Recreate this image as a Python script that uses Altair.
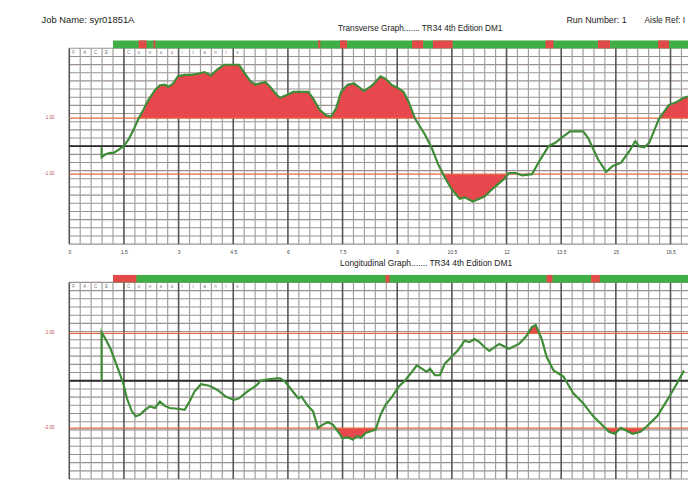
import altair as alt
import numpy as np
import pandas as pd

# ---------------- data ----------------
x_tick_values = [0, 1.5, 3, 4.5, 6, 7.5, 9, 10.5, 12, 13.5, 15, 16.5]

trans_x = [0.887, 0.887, 0.995, 1.131, 1.22, 1.356, 1.492, 1.627, 1.763, 1.899,
           2.034, 2.170, 2.351, 2.487, 2.623, 2.712, 2.848, 2.983, 3.165, 3.344,
           3.526, 3.708, 3.887, 4.068, 4.250, 4.429, 4.657, 4.793, 4.972, 5.107,
           5.378, 5.514, 5.696, 5.785, 5.967, 6.149, 6.555, 6.691, 6.870, 7.052,
           7.187, 7.323, 7.459, 7.640, 7.819, 8.091, 8.318, 8.543, 8.679, 8.861,
           9.040, 9.175, 9.311, 9.493, 9.764, 9.946, 10.125, 10.306, 10.488, 10.713,
           10.849, 11.074, 11.391, 11.663, 11.934, 12.069, 12.251, 12.430, 12.701, 12.929,
           13.154, 13.336, 13.561, 13.743, 14.103, 14.239, 14.510, 14.735, 14.917, 15.142,
           15.370, 15.533, 15.641, 15.777, 15.913, 16.184, 16.455, 16.680, 16.862, 16.979]
trans_y = [-0.04, -0.39, -0.29, -0.24, -0.24, -0.12, 0.0, 0.24, 0.59, 0.98,
           1.30, 1.65, 2.00, 2.18, 2.20, 2.12, 2.24, 2.50, 2.55, 2.55,
           2.59, 2.65, 2.53, 2.75, 2.91, 2.91, 2.91, 2.65, 2.32, 2.20,
           2.30, 2.12, 1.83, 1.73, 1.83, 1.94, 1.94, 1.71, 1.30, 1.10,
           1.06, 1.35, 1.94, 2.20, 2.24, 1.97, 2.18, 2.50, 2.41, 2.18,
           2.06, 1.94, 1.59, 0.98, 0.41, -0.06, -0.65, -1.12, -1.53, -1.88,
           -1.83, -1.98, -1.80, -1.47, -1.17, -0.96, -0.96, -1.04, -1.00, -0.47,
           0.0, 0.12, 0.35, 0.53, 0.53, 0.29, -0.47, -0.92, -0.71, -0.59,
           -0.18, 0.18, -0.01, -0.04, 0.12, 0.98, 1.47, 1.59, 1.73, 1.77]

long_x = [0.887, 0.887, 0.995, 1.131, 1.267, 1.402, 1.492, 1.581, 1.717, 1.825,
          1.945, 2.080, 2.216, 2.351, 2.487, 2.623, 2.758, 2.983, 3.165, 3.301,
          3.436, 3.615, 3.843, 4.068, 4.293, 4.521, 4.657, 4.882, 5.153, 5.243,
          5.424, 5.696, 5.785, 5.920, 6.102, 6.284, 6.374, 6.555, 6.691, 6.826,
          6.961, 7.097, 7.232, 7.368, 7.503, 7.640, 7.775, 7.911, 8.001, 8.136,
          8.272, 8.408, 8.543, 8.679, 8.861, 9.040, 9.222, 9.403, 9.538, 9.674,
          9.810, 9.899, 10.035, 10.171, 10.306, 10.488, 10.667, 10.849, 10.985, 11.120,
          11.256, 11.391, 11.527, 11.798, 12.069, 12.340, 12.530, 12.693, 12.801, 12.964,
          13.100, 13.290, 13.561, 13.832, 14.103, 14.375, 14.646, 14.809, 14.971, 15.134,
          15.297, 15.459, 15.676, 15.866, 16.138, 16.409, 16.680, 16.869]
long_y = [0.0, 2.04, 1.76, 1.35, 0.79, 0.23, -0.18, -0.74, -1.29, -1.50,
          -1.43, -1.23, -1.08, -1.15, -0.88, -1.06, -1.15, -1.18, -1.23, -0.88,
          -0.46, -0.15, -0.21, -0.39, -0.67, -0.81, -0.74, -0.46, -0.18, 0.0,
          0.05, 0.10, 0.10, -0.04, -0.39, -0.74, -0.67, -1.08, -1.29, -1.99,
          -1.85, -1.74, -1.85, -2.13, -2.43, -2.38, -2.48, -2.33, -2.40, -2.20,
          -2.13, -2.06, -1.43, -1.02, -0.67, -0.25, 0.02, 0.37, 0.65, 0.51,
          0.37, 0.51, 0.23, 0.23, 0.72, 1.00, 1.28, 1.69, 1.63, 1.76,
          1.63, 1.42, 1.26, 1.55, 1.35, 1.55, 1.85, 2.26, 2.35, 1.76,
          1.01, 0.43, 0.18, -0.53, -0.95, -1.49, -1.90, -2.15, -2.24, -1.99,
          -2.11, -2.24, -2.15, -1.90, -1.49, -0.82, -0.11, 0.43]

trans_limits = [1.0, -1.0]
trans_limit_labels = ["1.00", "-1.00"]
long_limits = [2.0, -2.0]
long_limit_labels = ["2.00", "-2.00"]

band_start = 1.2
trans_red_start = [1.90, 2.31, 6.83, 7.43, 9.41, 9.98, 13.07, 14.51, 16.16]
trans_red_end = [2.12, 2.36, 6.89, 7.62, 9.71, 10.52, 13.29, 14.84, 16.46]
long_red_start = [1.20, 8.68, 13.10, 14.32]
long_red_end = [1.84, 8.79, 13.26, 14.56]

cell_text = "FACE Consultants"

header_job = "Job Name: syr01851A"
header_run = "Run Number: 1"
header_aisle = "Aisle Ref: I"
title_trans = "Transverse Graph....... TR34 4th Edition DM1"
title_long = "Longitudinal Graph....... TR34 4th Edition DM1"

# ---------------- layout / style ----------------
W, H = 626, 445
XMAX = 16.98
FONT = "Liberation Sans"
GREEN_LINE = "#3f8c37"
RED_FILL = "#e6484e"
LIMIT_RED = "#e4673f"
BAND_GREEN = "#3fae44"
BAND_RED = "#e24a4a"

xs = alt.Scale(domain=[0, XMAX], nice=False, zero=False)
X_AXIS = alt.Axis(values=x_tick_values, title=None, domain=False, ticks=False, grid=False,
                  labelFontSize=5, labelColor="#444", labelPadding=6, offset=-238,
                  format=".1~f", labelOverlap=False, labelFlush=False, labelFont=FONT)

ys_top = alt.Scale(domain=[-11.908, 3.816], nice=False, zero=False)
ys_bot = alt.Scale(domain=[-4.154, 14.3875], nice=False, zero=False)


def X(field):
    return alt.X(field, type="quantitative", scale=xs, axis=X_AXIS)


def Y(field, sc):
    return alt.Y(field, type="quantitative", scale=sc, axis=None)


def fill_frame(xv, yv, thr, upper):
    ox, oy = [], []
    for i in range(len(xv)):
        if i > 0:
            x0, y0, x1, y1 = xv[i - 1], yv[i - 1], xv[i], yv[i]
            if (y0 - thr) * (y1 - thr) < 0:
                t = (thr - y0) / (y1 - y0)
                ox.append(x0 + t * (x1 - x0))
                oy.append(thr)
        ox.append(xv[i])
        oy.append(max(yv[i], thr) if upper else min(yv[i], thr))
    return pd.DataFrame({"x": ox, "yf": oy, "thr": [thr] * len(ox)})


def panel(sc, g, band_top, cx, cy, limits, limit_labels, rs, re_):
    layers = []
    # horizontal grid
    hv = np.linspace(-g, g, 25)
    hdf = pd.DataFrame({"y": hv, "x0": 0.0, "x1": XMAX})
    layers.append(alt.Chart(hdf).mark_rule(color="#9c9090", strokeWidth=1.1).encode(
        x=X("x0"), x2="x1", y=Y("y", sc)))
    # vertical grid
    allv = np.round(np.arange(0, XMAX, 0.3), 3)
    major = [v for v in allv if abs(v / 1.5 - round(v / 1.5)) < 1e-6]
    minor = [v for v in allv if abs(v / 1.5 - round(v / 1.5)) >= 1e-6]
    vmin = pd.DataFrame({"x": minor, "y0": -g, "y1": g})
    vmaj = pd.DataFrame({"x": major, "y0": -g, "y1": g})
    layers.append(alt.Chart(vmin).mark_rule(color="#a0a0a0", strokeWidth=1.2).encode(
        x=X("x"), y=Y("y0", sc), y2="y1"))
    layers.append(alt.Chart(vmaj).mark_rule(color="#555555", strokeWidth=1.6).encode(
        x=X("x"), y=Y("y0", sc), y2="y1"))
    # red fills beyond the limits
    up = fill_frame(cx, cy, limits[0], True)
    dn = fill_frame(cx, cy, limits[1], False)
    for fdf in (up, dn):
        layers.append(alt.Chart(fdf).mark_area(color=RED_FILL, opacity=1, orient="vertical",
                                               clip=True).encode(
            x=X("x"), y=Y("yf", sc), y2=alt.Y2("thr")))
    # limit lines
    ldf = pd.DataFrame({"y": limits, "x0": 0.0, "x1": XMAX})
    layers.append(alt.Chart(ldf).mark_rule(color=LIMIT_RED, strokeWidth=1.3).encode(
        x=X("x0"), x2="x1", y=Y("y", sc)))
    # zero line
    zdf = pd.DataFrame({"y": [0.0], "x0": 0.0, "x1": XMAX})
    layers.append(alt.Chart(zdf).mark_rule(color="#2a2a2a", strokeWidth=1.9).encode(
        x=X("x0"), x2="x1", y=Y("y", sc)))
    # measured curve
    cdf = pd.DataFrame({"x": cx, "y": cy, "i": range(len(cx))})
    layers.append(alt.Chart(cdf).mark_line(color=GREEN_LINE, strokeWidth=2.2, clip=True).encode(
        x=X("x"), y=Y("y", sc), order="i:Q"))
    # status band
    gdf = pd.DataFrame({"x0": [band_start], "x1": [XMAX], "y0": [g], "y1": [band_top]})
    layers.append(alt.Chart(gdf).mark_rect(color=BAND_GREEN).encode(
        x=X("x0"), x2="x1", y=Y("y0", sc), y2="y1"))
    rdf = pd.DataFrame({"x0": rs, "x1": re_, "y0": g, "y1": band_top})
    layers.append(alt.Chart(rdf).mark_rect(color=BAND_RED).encode(
        x=X("x0"), x2="x1", y=Y("y0", sc), y2="y1"))
    # letters in the top row
    letters = [(i * 0.3, ch) for i, ch in enumerate(cell_text) if ch != " "]
    tdf = pd.DataFrame({"x": [a for a, _ in letters], "t": [b for _, b in letters], "y": g})
    layers.append(alt.Chart(tdf).mark_text(align="left", baseline="top", dx=3, dy=2,
                                           fontSize=4.5, color="#777", font=FONT).encode(
        x=X("x"), y=Y("y", sc), text="t:N"))
    # limit labels on the left
    lab = pd.DataFrame({"y": limits, "t": limit_labels})
    layers.append(alt.Chart(lab).mark_text(align="right", baseline="middle", fontSize=4.5,
                                           color="#b84a4a", font=FONT).encode(
        x=alt.value(-15), y=Y("y", sc), text="t:N"))
    return layers


def header(text, px, py, size, anchor="left"):
    return alt.Chart(pd.DataFrame({"t": [text]})).mark_text(
        align=anchor, baseline="middle", fontSize=size, color="#1a1a1a", font=FONT).encode(
        x=alt.value(px), y=alt.value(py), text="t:N")


layers = []
layers += panel(ys_top, 3.5, 3.78, trans_x, trans_y, trans_limits, trans_limit_labels,
                trans_red_start, trans_red_end)
layers += panel(ys_bot, 4.145, 4.46, long_x, long_y, long_limits, long_limit_labels,
                long_red_start, long_red_end)
layers += [
    header(header_job, -28, -19.5, 9.5),
    header(header_run, 503, -19.5, 9),
    header(header_aisle, 582, -19.5, 8.5),
    header(title_trans, 272, -11, 8.3),
    header(title_long, 274, 226.5, 8.5),
]

chart = alt.layer(*layers).resolve_scale(y="independent").properties(
    width=W, height=H,
    padding={"left": 62, "top": 29, "right": 0, "bottom": 4},
    autosize=alt.AutoSizeParams(type="none"),
    background="white",
).configure_view(stroke=None)

chart.save("out.html", embed_options={"renderer": "svg", "actions": False})
